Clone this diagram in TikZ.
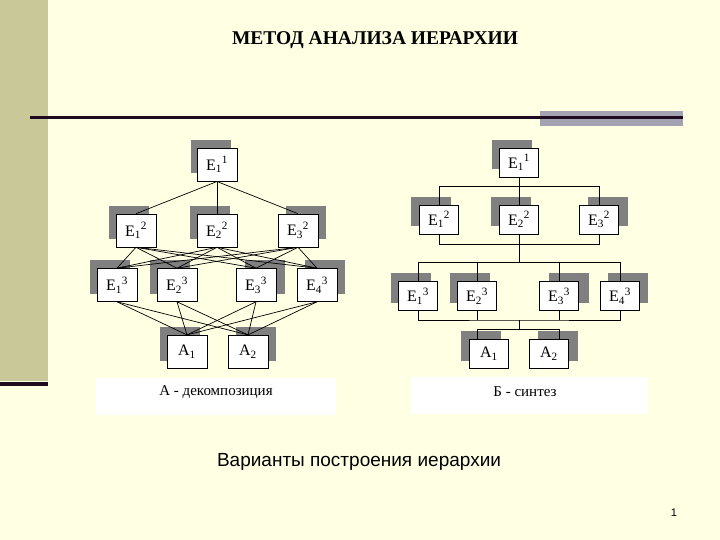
\documentclass[tikz,border=0pt]{standalone}
\usepackage{fontspec}
\setmainfont{Liberation Serif}
\newfontfamily\arialfont{Liberation Sans}
\usetikzlibrary{calc,backgrounds}

\definecolor{slidebg}{RGB}{255,255,227}
\definecolor{sidebar}{RGB}{200,200,152}
\definecolor{darkline}{RGB}{32,10,32}
\definecolor{shadecol}{RGB}{128,128,128}
\definecolor{tabgray}{RGB}{162,162,178}

\pgfdeclarelayer{bg}
\pgfdeclarelayer{shade}
\pgfsetlayers{bg,shade,main}

\tikzset{
    box/.style={draw=black, fill=white, line width=0.6pt, inner sep=0pt,
        minimum width=40pt, minimum height=33pt, font=\fontsize{16}{16}\selectfont},
    sbox/.style={box, minimum width=39pt, minimum height=29pt},
    link/.style={line width=0.7pt},
    caption/.style={fill=white, minimum width=240pt, minimum height=37pt},
}

\newcommand\lab[2]{E\textsubscript{#1}\textsuperscript{#2}}

\begin{document}
\begin{tikzpicture}[x=1pt,y=-1pt]
    \useasboundingbox (0,0) rectangle (720,540);
    \begin{pgfonlayer}{bg}
        \fill[slidebg] (0,0) rectangle (720,540);
        \fill[sidebar] (0,0) rectangle (47.5,381);
        \fill[darkline] (0,382) rectangle (47.5,386);
        \fill[tabgray] (540,111) rectangle (683,126);
    \end{pgfonlayer}
    \draw[darkline, line width=2.6pt] (30,117.3) -- (683,117.3);

    \node (title) at (375,40) {\fontsize{19.5}{20}\selectfont\bfseries МЕТОД АНАЛИЗА ИЕРАРХИИ};

    % А - декомпозиция
    \node[caption] (capA) at (216,396.5) {};
    \node (capAtext) at (216,392) {\fontsize{15}{15}\selectfont А - декомпозиция};
    \node[box] (dE11) at (217,164.7) {\lab{1}{1}};
    \node[box] (dE12) at (136,230.5) {\lab{1}{2}};
    \node[box] (dE22) at (217,230.5) {\lab{2}{2}};
    \node[box] (dE32) at (298,230.5) {\lab{3}{2}};
    \node[box] (dE13) at (117,285) {\lab{1}{3}};
    \node[box] (dE23) at (177,285) {\lab{2}{3}};
    \node[box] (dE33) at (256,285) {\lab{3}{3}};
    \node[box] (dE43) at (317,285) {\lab{4}{3}};
    \node[box] (dA1) at (187,351.7) {A\textsubscript{1}};
    \node[box] (dA2) at (248,351.7) {A\textsubscript{2}};

    \foreach \a in {dE12,dE22,dE32} {
        \draw[link] (dE11.south) -- (\a.north);
        \foreach \b in {dE13,dE23,dE33,dE43} {
            \draw[link] (\a.south) -- (\b.north);
        }
    }
    \foreach \a in {dE13,dE23,dE33,dE43} {
        \foreach \b in {dA1,dA2} {
            \draw[link] (\a.south) -- (\b.north);
        }
    }

    % Б - синтез
    \node[caption, minimum width=237pt] (capB) at (529.5,395.5) {};
    \node (capBtext) at (525,392) {\fontsize{15}{15}\selectfont Б - синтез};
    \node[sbox] (sE11) at (519,162.5) {\lab{1}{1}};
    \node[sbox] (sE12) at (439,219.7) {\lab{1}{2}};
    \node[sbox] (sE22) at (519,219.7) {\lab{2}{2}};
    \node[sbox] (sE32) at (599,219.7) {\lab{3}{2}};
    \node[sbox] (sE13) at (418,296) {\lab{1}{3}};
    \node[sbox] (sE23) at (477,296) {\lab{2}{3}};
    \node[sbox] (sE33) at (559,296) {\lab{3}{3}};
    \node[sbox] (sE43) at (620,296) {\lab{4}{3}};
    \node[sbox] (sA1) at (489,354) {A\textsubscript{1}};
    \node[sbox] (sA2) at (549,354) {A\textsubscript{2}};

    \coordinate (s1) at (519,186.7);
    \coordinate (s2) at (519,244.3);
    \coordinate (s3) at (519,262.7);
    \coordinate (s4) at (519,320);
    \coordinate (s5) at (519,329.5);
    \draw[link] (sE11.south) -- (sE22.north);
    \draw[link] (sE12.north) |- (s1) -| (sE32.north);
    \draw[link] (sE12.south) |- (s2) -| (sE32.south);
    \draw[link] (sE22.south) -- (s3);
    \draw[link] (sE13.north) |- (s3) -| (sE43.north);
    \draw[link] (sE13.south) |- (s4) -| (sE43.south);
    \foreach \b in {sE23,sE33} {
        \draw[link] (\b.north) -- (\b.north |- s3);
        \draw[link] (\b.south) -- (\b.south |- s4);
    }
    \draw[link] (s4) -- (s5);
    \draw[link] (sA1.north -| sE23.south) |- (s5) -| (sA2.north -| sE33.south);

    % shadows: left ones up-left, right ones up-right
    \begin{pgfonlayer}{shade}
        \foreach \n/\d in {dE11/-6,dE12/-7,dE22/-7,dE32/8,dE13/-7,dE23/-7,dE33/9,dE43/8,dA1/-7,dA2/8,
                sE11/-7,sE12/-8,sE22/-8,sE32/9,sE13/-7,sE23/-7,sE33/10,sE43/8,sA1/-8,sA2/9} {
            \fill[shadecol] ([shift={(\d,-8)}]\n.north west) rectangle ([shift={(\d,-8)}]\n.south east);
        }
    \end{pgfonlayer}

    \node (subtitle) at (359,462) {\arialfont\fontsize{19}{19}\selectfont Варианты построения иерархии};
    \node (pagenum) at (674,513) {\arialfont\fontsize{11}{11}\selectfont 1};
\end{tikzpicture}
\end{document}
